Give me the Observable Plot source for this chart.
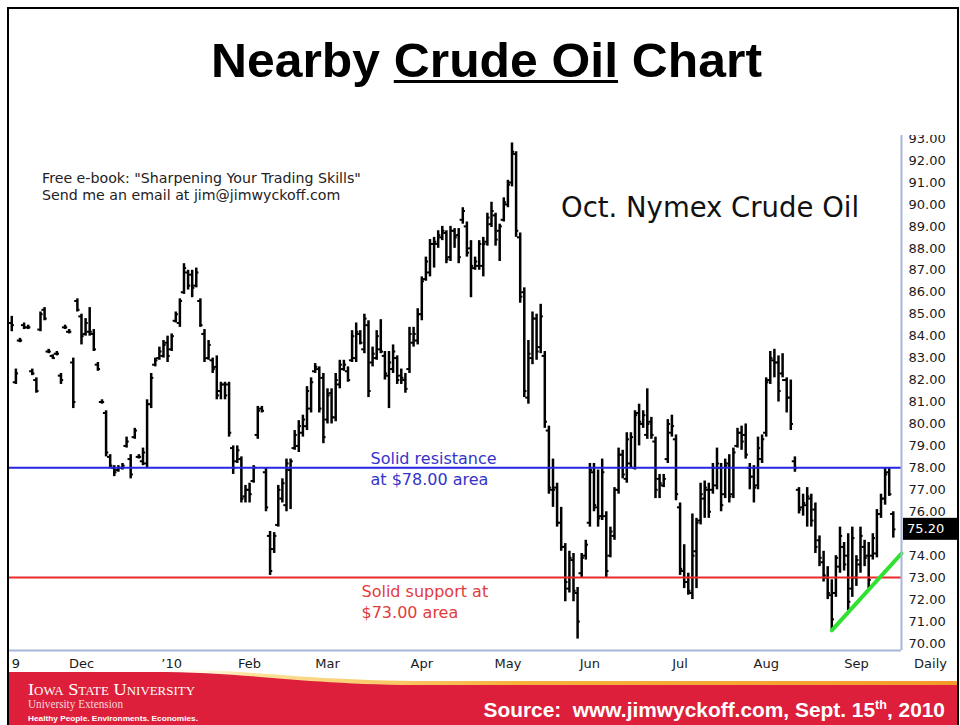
<!DOCTYPE html>
<html>
<head>
<meta charset="utf-8">
<script src="https://cdn.jsdelivr.net/npm/d3@7"></script>
<script src="https://cdn.jsdelivr.net/npm/@observablehq/plot@0.6"></script>
<style>
html,body{margin:0;padding:0;background:#fff;}
#slide{position:relative;width:960px;height:725px;overflow:hidden;background:#fff;}
#deco{position:absolute;left:0;top:0;}
#chart{position:absolute;left:8px;top:135px;width:952px;height:515px;overflow:hidden;}
#xaxis{position:absolute;left:8px;top:649px;width:952px;height:25px;overflow:hidden;}
#border{position:absolute;left:7px;top:7px;width:952px;height:730px;border:2px solid #000;box-sizing:border-box;pointer-events:none;}
</style>
</head>
<body>
<div id="slide">
<svg id="deco" width="960" height="725" xmlns="http://www.w3.org/2000/svg">
  <defs>
    <linearGradient id="gold" x1="0" x2="1" y1="0" y2="0">
      <stop offset="0" stop-color="#ffffff" stop-opacity="0"/>
      <stop offset="0.12" stop-color="#fbe39a"/>
      <stop offset="0.45" stop-color="#f7b23c"/>
      <stop offset="1" stop-color="#f39a2a"/>
    </linearGradient>
  </defs>
  <text id="title" x="211" y="77" font-family="'Liberation Sans', Arial, sans-serif" font-weight="bold" font-size="49" fill="#000" textLength="551" lengthAdjust="spacingAndGlyphs" style="white-space:pre">Nearby Crude Oil Chart</text>
  <line id="uline" stroke="#000" stroke-width="3"/>
  <text x="42" y="183" font-family="'DejaVu Sans', sans-serif" font-size="14.2" fill="#222" style="white-space:pre">Free e-book: "Sharpening Your Trading Skills"</text>
  <text x="42" y="200" font-family="'DejaVu Sans', sans-serif" font-size="14.2" fill="#222" style="white-space:pre">Send me an email at jim@jimwyckoff.com</text>
  <text x="561" y="217" font-family="'DejaVu Sans', sans-serif" font-size="27.5" fill="#111" style="white-space:pre">Oct. Nymex Crude Oil</text>
  <!-- footer -->
  <path d="M150,669 C255,669 300,681 430,681 L958,681 L958,686 L430,686 C300,686 255,674 150,674 Z" fill="url(#gold)"/>
  <path d="M9,672 L150,672 C255,672 300,685 430,685 L958,685 L958,725 L9,725 Z" fill="#dd1f3b"/>
  <text x="28" y="695" font-family="'Liberation Serif', 'Times New Roman', serif" font-size="17" fill="#fff" style="font-variant:small-caps" textLength="167" lengthAdjust="spacingAndGlyphs">Iowa State University</text>
  <text x="28" y="708" font-family="'Liberation Serif', 'Times New Roman', serif" font-size="11.5" fill="#f6d8dc" textLength="95" lengthAdjust="spacingAndGlyphs">University Extension</text>
  <text x="28" y="721" font-family="'Liberation Sans', Arial, sans-serif" font-weight="bold" font-size="8" fill="#fff" textLength="170" lengthAdjust="spacingAndGlyphs">Healthy People. Environments. Economies.</text>
  <text x="945" y="717" text-anchor="end" font-family="'Liberation Sans', Arial, sans-serif" font-weight="bold" font-size="20.9" fill="#fff" style="white-space:pre">Source:  www.jimwyckoff.com, Sept. 15<tspan font-size="12.5" dy="-8">th</tspan><tspan dy="8">, 2010</tspan></text>
</svg>
<div id="chart"></div>
<div id="xaxis"></div>
<div id="border"></div>
</div>
<script>
// ---- Data: Oct. Nymex crude oil daily bars (index 0 = first trading day of Dec 2009) ----
const firstIndex = -17;
const high = [
  84.9, 82.5, 83.9, 84.6, 84.5, 82.5, 82.1, 85.1, 85.3, 83.4, 83.15, 83.3, 82.3, 84.5, 84.3, 83.0, 85.7, // Nov
  85.0, 84.8, 85.3, 84.3, 82.8, 81.1, 80.6, 78.6, 78.1, 78.1, 78.2, 79.4, 78.6, 79.8, 78.6, 78.9, 81.1, 82.3, 83.0, 83.5, 83.8, 84.0, // Dec
  84.1, 85.1, 85.7, 87.3, 87.0, 87.0, 87.1, 85.7, 84.3, 83.8, 83.0, 83.1, 81.9, 81.9, 81.9, 79.0, 79.0, 78.5, 77.2, // Jan
  77.3, 78.1, 80.8, 80.8, 78.0, 75.1, 75.05, 77.2, 77.5, 78.4, 78.4, 79.7, 80.15, 80.4, 81.7, 82.1, 82.75, 82.6, 82.3, // Feb
  81.6, 81.6, 82.3, 82.9, 82.9, 82.6, 84.25, 84.6, 84.25, 85.0, 84.7, 83.5, 84.25, 84.75, 83.3, 83.3, 83.6, 83.1, 82.5, 82.3, 84.4, 84.4, 85.25, // Mar
  86.7, 87.6, 88.4, 88.5, 88.8, 89.0, 88.8, 89.0, 88.9, 88.9, 89.85, 89.2, 88.35, 87.6, 88.35, 88.5, 89.6, 90.1, 89.6, 89.1, 90.3, // Apr
  91.1, 92.8, 92.4, 88.7, 86.2, 83.8, 85.1, 85.0, 85.45, 83.3, 79.9, 78.4, 77.3, 76.2, 74.55, 74.2, 74.1, 72.55, 74.1, 74.7, // May
  78.2, 78.2, 77.9, 78.4, 76.0, 75.3, 77.1, 78.9, 78.8, 79.6, 79.6, 80.6, 80.9, 80.6, 81.6, 80.3, 79.4, 77.7, 77.7, 80.2, 80.4, 79.5, // Jun
  76.4, 74.5, 73.2, 75.9, 75.7, 77.3, 77.4, 77.3, 78.2, 78.9, 78.2, 78.4, 78.6, 78.9, 79.8, 79.9, 80.0, 78.2, 78.1, 79.4, 79.5, // Jul
  82.1, 83.3, 83.4, 83.1, 83.2, 82.1, 82.0, 78.5, 77.1, 76.8, 77.1, 76.8, 76.4, 74.9, 74.2, 73.5, 72.9, 74.0, 75.3, 74.6, 75.0, 75.3, // Aug
  74.0, 75.3, 74.7, 74.6, 75.0, 76.1, 76.8, 78.0, 78.0, 76.0 // Sep
];
const low = [
  84.2, 81.8, 83.7, 84.3, 84.3, 82.2, 81.4, 84.2, 84.7, 83.2, 82.95, 83.1, 81.8, 84.3, 84.1, 80.7, 85.1,
  83.6, 84.0, 84.0, 83.3, 82.4, 80.9, 78.5, 78.0, 77.6, 77.8, 77.9, 78.9, 77.5, 79.3, 78.4, 78.1, 78.0, 80.7, 82.6, 82.9, 83.0, 82.8,
  83.3, 84.6, 84.4, 85.9, 86.1, 85.75, 86.2, 84.4, 82.8, 82.9, 82.3, 81.1, 81.1, 81.1, 79.4, 77.7, 78.2, 76.4, 76.4,
  76.4, 77.3, 79.3, 80.5, 76.0, 73.1, 74.1, 75.3, 76.4, 76.0, 76.1, 78.8, 78.7, 79.4, 79.7, 80.5, 82.3, 80.5, 79.1,
  80.0, 80.0, 80.1, 81.6, 82.4, 81.9, 82.8, 82.8, 83.6, 83.2, 81.2, 82.6, 82.9, 83.2, 82.0, 80.7, 82.3, 81.8, 81.8, 81.4, 82.3, 83.5, 83.6,
  84.7, 86.5, 86.7, 87.1, 88.0, 88.35, 87.3, 87.4, 88.0, 87.3, 89.1, 87.6, 85.75, 87.0, 87.0, 86.7, 88.1, 88.95, 88.1, 87.4, 89.2,
  89.85, 90.8, 88.5, 85.5, 81.2, 80.9, 82.7, 82.9, 83.2, 79.8, 76.8, 76.2, 75.3, 74.2, 71.9, 72.3, 71.9, 70.2, 73.0, 73.8,
  75.3, 76.0, 75.3, 75.6, 73.0, 73.9, 74.7, 76.8, 77.5, 77.3, 78.0, 77.9, 79.0, 79.8, 79.3, 79.3, 76.6, 76.6, 77.1, 78.2, 79.4, 76.5,
  73.1, 72.5, 72.2, 72.0, 72.5, 75.4, 75.7, 75.7, 76.8, 77.0, 76.0, 76.6, 76.4, 76.6, 78.9, 78.8, 78.4, 77.0, 76.4, 77.0, 78.2,
  79.4, 81.8, 82.1, 81.0, 82.1, 80.5, 79.7, 77.8, 75.9, 75.8, 75.3, 75.3, 74.1, 73.5, 72.8, 72.0, 70.6, 72.1, 73.2, 73.3, 71.5, 72.1,
  72.6, 73.2, 73.5, 72.5, 73.8, 73.9, 75.7, 76.3, 76.7, 74.8
];
const open = [
  84.6, 81.9, 83.8, 84.5, 84.4, 82.4, 82.0, 84.3, 85.2, 83.3, 83.1, 83.2, 82.2, 84.4, 84.2, 82.8, 85.6,
  84.9, 84.1, 84.2, 84.1, 82.7, 81.0, 80.5, 78.5, 78.0, 77.9, 78.0, 79.0, 78.4, 79.4, 78.5, 78.3, 78.2, 80.9, 82.7, 83.0, 83.1, 83.7,
  83.4, 84.7, 84.6, 86.0, 86.9, 86.8, 86.3, 85.6, 84.1, 83.0, 82.9, 82.6, 81.5, 81.8, 81.8, 78.9, 78.3, 78.4, 76.7,
  77.0, 77.4, 79.5, 80.7, 77.8, 74.9, 74.3, 75.4, 76.6, 76.3, 77.9, 78.9, 79.0, 79.6, 79.9, 80.7, 82.4, 82.5, 82.1,
  80.2, 81.4, 80.3, 81.8, 82.5, 82.4, 82.9, 83.0, 84.1, 83.4, 84.5, 82.8, 83.0, 83.4, 83.1, 82.2, 82.5, 83.0, 82.2, 82.0, 82.5, 83.7, 83.8,
  85.0, 86.6, 86.9, 88.2, 88.2, 88.5, 88.7, 87.6, 88.8, 88.6, 89.3, 89.0, 88.0, 87.1, 87.2, 87.2, 88.3, 89.1, 89.5, 88.8, 89.3,
  90.0, 91.0, 92.3, 88.5, 86.0, 81.2, 83.0, 84.8, 83.5, 83.1, 79.7, 77.0, 77.1, 75.5, 74.4, 72.5, 73.8, 72.3, 73.2, 74.0,
  75.5, 77.8, 76.2, 75.8, 75.8, 74.0, 74.9, 77.0, 78.6, 77.5, 78.2, 78.0, 80.5, 80.0, 79.5, 80.1, 79.2, 77.5, 77.2, 78.4, 79.6, 79.3,
  76.2, 73.3, 72.8, 72.3, 74.2, 75.6, 76.6, 77.0, 77.0, 77.2, 78.0, 76.8, 78.2, 76.8, 79.0, 79.6, 79.5, 78.0, 77.6, 77.2, 78.4,
  79.6, 82.0, 82.9, 82.8, 82.3, 82.0, 81.2, 78.3, 77.0, 76.2, 76.3, 76.6, 76.1, 74.7, 73.7, 73.0, 72.2, 72.3, 73.5, 74.4, 74.0, 72.5,
  73.0, 73.6, 74.4, 74.0, 74.0, 74.1, 75.9, 76.6, 77.8, 75.9
];
const close = [
  84.5, 82.3, 83.8, 84.4, 84.4, 82.3, 81.5, 85.0, 84.8, 83.3, 83.0, 83.2, 82.0, 84.4, 84.2, 81.0, 85.2,
  84.0, 84.6, 84.2, 83.4, 82.5, 81.0, 78.7, 78.1, 77.8, 78.0, 78.1, 79.2, 77.7, 79.7, 78.5, 78.7, 80.9, 82.1, 82.9, 83.3, 83.6, 83.1,
  84.0, 85.0, 85.6, 87.1, 86.3, 86.2, 86.9, 84.5, 83.0, 83.6, 82.5, 81.3, 81.8, 81.3, 79.6, 78.0, 78.8, 76.6, 77.0,
  76.8, 78.0, 80.6, 80.6, 76.2, 73.3, 74.9, 77.0, 77.3, 78.2, 78.3, 79.5, 79.9, 80.2, 81.5, 81.9, 82.6, 80.7, 79.4,
  81.3, 80.3, 82.0, 82.7, 82.7, 82.0, 84.0, 84.2, 83.7, 84.8, 81.5, 83.2, 84.0, 83.3, 82.3, 82.8, 83.3, 82.0, 82.1, 81.6, 84.1, 84.1, 85.0,
  86.5, 87.4, 88.2, 88.3, 88.6, 88.8, 87.5, 88.8, 88.5, 87.6, 89.7, 87.8, 87.2, 87.4, 88.2, 88.2, 89.4, 89.7, 88.4, 89.0, 90.1,
  90.9, 92.4, 88.8, 85.8, 81.5, 83.2, 84.8, 83.3, 84.9, 80.1, 77.1, 77.0, 75.5, 74.4, 72.8, 73.9, 72.4, 71.0, 73.9, 74.5,
  77.9, 76.3, 75.7, 77.8, 73.3, 75.1, 77.0, 78.6, 77.7, 79.3, 79.4, 80.4, 80.1, 80.4, 80.0, 79.5, 77.0, 77.3, 77.5, 80.0, 79.9, 76.8,
  73.4, 72.8, 72.4, 74.0, 75.5, 76.8, 77.1, 76.0, 78.0, 78.2, 76.3, 78.1, 76.7, 78.7, 79.6, 79.2, 78.6, 77.6, 77.1, 78.9, 79.3,
  81.9, 83.0, 82.8, 81.5, 82.0, 81.2, 80.0, 78.0, 76.1, 76.4, 76.7, 75.6, 74.4, 73.9, 73.1, 72.3, 71.1, 73.9, 74.9, 73.6, 71.9, 74.8,
  73.8, 74.9, 73.9, 72.9, 74.8, 75.9, 76.6, 77.7, 76.8, 75.2
];
// price labels visible on the right axis (75.00 is hidden behind the last-price box)
const priceTicks = [70, 71, 72, 73, 74, 76, 77, 78, 79, 80, 81, 82, 83, 84, 85, 86, 87, 88, 89, 90, 91, 92, 93];
const monthTickIndex = [-16, 0, 22, 41, 60, 83, 104, 124, 146, 167, 189];
const monthLabels = ["9", "Dec", "’10", "Feb", "Mar", "Apr", "May", "Jun", "Jul", "Aug", "Sep"];
const resistanceLevel = [78];
const supportLevel = [73];
const trendIndex = [183, 200];
const trendPrice = [70.6, 74.1];

// ---- Build tables ----
const n = Math.min(high.length, low.length, open.length, close.length);
const bars = d3.range(n).map(k => ({i: firstIndex + k, high: high[k], low: low[k], open: open[k], close: close[k]}));
const trend = trendIndex.map((t, k) => ({i: t, p: trendPrice[k]}));
const monthTicks = monthTickIndex.map((t, k) => ({i: t, label: monthLabels[k]}));
const lastClose = close[n - 1];

const xDomain = [-17.8, 200];
const yDomain = [69.68, 93.14];
const font = "'DejaVu Sans', Verdana, sans-serif";

const chart = Plot.plot({
  width: 952, height: 515,
  marginLeft: 0, marginRight: 59, marginTop: 0, marginBottom: 0,
  x: {domain: xDomain, axis: null},
  y: {domain: yDomain, axis: null},
  style: {fontFamily: font, background: "transparent"},
  marks: [
    Plot.ruleX(bars, {x: "i", y1: "low", y2: "high", stroke: "#000", strokeWidth: 2.5}),
    Plot.ruleY(bars, {y: "open", x1: d => d.i - 0.65, x2: "i", stroke: "#000", strokeWidth: 2}),
    Plot.ruleY(bars, {y: "close", x1: "i", x2: d => d.i + 0.65, stroke: "#000", strokeWidth: 2}),
    Plot.ruleY(resistanceLevel, {stroke: "#2525e6", strokeWidth: 2}),
    Plot.ruleY(supportLevel, {stroke: "#ea2a2a", strokeWidth: 2}),
    Plot.line(trend, {x: "i", y: "p", stroke: "#2fe22f", strokeWidth: 4}),
    Plot.ruleX([xDomain[1]], {stroke: "#a6b6d8", strokeWidth: 2}),
    Plot.axisY(priceTicks, {anchor: "right", tickSize: 0, tickPadding: 7, tickFormat: d => d.toFixed(2), fontSize: 13, fill: "#1a1a1a", label: null}),
    Plot.text(resistanceLevel, {y: d => d, frameAnchor: "left", dx: 362, text: d => `Solid resistance\nat $${d.toFixed(2)} area`, textAnchor: "start", lineAnchor: "middle", lineHeight: 1.3, fill: "#3434c8", fontSize: 16}),
    Plot.text(supportLevel, {y: d => d, frameAnchor: "left", dx: 353, dy: 5, text: d => `Solid support at\n$${d.toFixed(2)} area`, textAnchor: "start", lineAnchor: "top", lineHeight: 1.3, fill: "#e23b3b", fontSize: 16})
  ]
});

// last price box on the right axis, positioned with the chart's own y scale
const yS = chart.scale("y");
const yy = yS.apply(lastClose);
const sel = d3.select(chart);
sel.append("rect").attr("x", 895).attr("y", yy - 11).attr("width", 56).attr("height", 22).attr("fill", "#000");
sel.append("text").attr("x", 899).attr("y", yy).attr("dy", "0.35em").attr("fill", "#fff")
  .attr("text-anchor", "start").attr("font-family", font).attr("font-size", 13).text(lastClose.toFixed(2));
document.getElementById("chart").appendChild(chart);

const xaxis = Plot.plot({
  width: 952, height: 25,
  marginLeft: 0, marginRight: 59, marginTop: 1, marginBottom: 0,
  x: {domain: xDomain, axis: null},
  y: {domain: [0, 1], axis: null},
  style: {fontFamily: font, background: "transparent"},
  marks: [
    Plot.ruleY([1], {stroke: "#a6b6d8", strokeWidth: 2}),
    Plot.text(monthTicks, {x: "i", text: "label", frameAnchor: "middle", dy: 1, fontSize: 13, fill: "#1a1a1a"}),
    Plot.text(["Daily"], {frameAnchor: "right", dx: 29, dy: 1, textAnchor: "middle", fontSize: 13, fill: "#1a1a1a"})
  ]
});
document.getElementById("xaxis").appendChild(xaxis);

// underline under "Crude Oil" in the title
const t = document.getElementById("title");
const x1 = t.getStartPositionOfChar(7).x;
const x2 = t.getEndPositionOfChar(15).x;
const u = document.getElementById("uline");
u.setAttribute("x1", x1); u.setAttribute("x2", x2);
u.setAttribute("y1", 81.5); u.setAttribute("y2", 81.5);
</script>
</body>
</html>
